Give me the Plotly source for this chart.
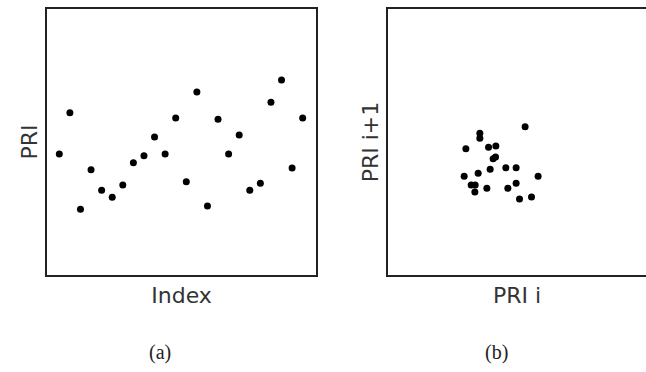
import plotly.graph_objects as go

# Panel (a): PRI sequence vs index
index_a = list(range(1, 25))
pri_a = [121, 162.3, 65.7, 105.3, 84.7, 77.7, 90, 112.3, 119.3, 138, 121, 157,
         93.3, 183, 69, 155.7, 121, 140, 84.7, 91.7, 172.7, 195, 107, 157]

# Panel (b): PRI i vs PRI i+1
pri_i = [137.0, 91.7, 91.7, 77.7, 100.4, 107.7, 105.0, 107.4, 102.0, 117.7, 128.0,
         90.0, 76.0, 150.0, 83.0, 87.0, 86.7, 98.7, 119.7, 128.0, 131.4, 143.4]
pri_i1 = [148.3, 141.7, 136.7, 126.3, 127.7, 129.0, 116.3, 118.0, 105.7, 107.3, 107.3,
          101.7, 98.7, 98.7, 90.0, 90.0, 83.0, 86.7, 86.7, 91.7, 76.0, 78.0]

fig = go.Figure()
fig.add_trace(go.Scatter(x=index_a, y=pri_a, mode="markers",
                         marker=dict(color="black", size=7), xaxis="x", yaxis="y",
                         showlegend=False))
fig.add_trace(go.Scatter(x=pri_i, y=pri_i1, mode="markers",
                         marker=dict(color="black", size=7), xaxis="x2", yaxis="y2",
                         showlegend=False))

axis_font = dict(family="DejaVu Sans", size=22, color="#333")
common = dict(showgrid=False, zeroline=False, showticklabels=False, ticks="",
              showline=True, linecolor="#222", linewidth=1.6)

fig.update_layout(
    width=646, height=372,
    margin=dict(l=0, r=0, t=0, b=0),
    paper_bgcolor="white", plot_bgcolor="white",
    xaxis=dict(domain=[0.0733, 0.4887], range=[-0.13, 25.23], mirror=True,
               title=dict(text="Index", font=axis_font, standoff=12), anchor="y", **common),
    yaxis=dict(domain=[0.2608, 0.9758], range=[0, 266], mirror=True,
               title=dict(text="PRI", font=axis_font, standoff=2), anchor="x", **common),
    xaxis2=dict(domain=[0.601, 1.0], range=[0, 258], mirror=True,
                title=dict(text="PRI i", font=axis_font, standoff=12), anchor="y2", **common),
    yaxis2=dict(domain=[0.2608, 0.9758], range=[0, 266], mirror=False,
                title=dict(text="PRI i+1", font=axis_font, standoff=2), anchor="x2", **common),
)

for label, px, py in [("(a)", 160, 352), ("(b)", 496, 352)]:
    fig.add_annotation(text=label, x=px / 646, y=1 - py / 372, xref="paper", yref="paper",
                       xanchor="center", yanchor="middle", showarrow=False,
                       font=dict(family="Liberation Serif", size=20, color="#222"))

fig.write_html("out.html")
